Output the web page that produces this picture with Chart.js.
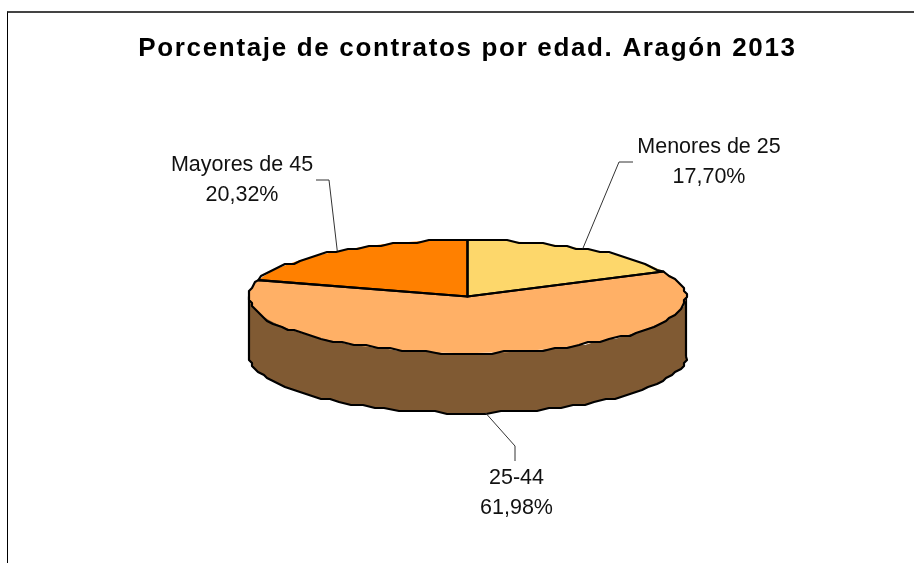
<!DOCTYPE html>
<html>
<head>
<meta charset="utf-8">
<title>Porcentaje de contratos por edad</title>
<script src="https://cdn.jsdelivr.net/npm/chart.js@4"></script>
<style>
  html, body { margin: 0; padding: 0; background: #fff; overflow: hidden; }
  #frame { position: absolute; left: 7px; top: 11px; width: 907px; height: 552px;
           border-top: 2px solid #444; border-left: 1px solid #000; }
  #wrap { position: absolute; left: 0; top: 0; width: 914px; height: 563px; }
</style>
</head>
<body>
<div id="frame"></div>
<div id="wrap"><canvas id="pie" width="914" height="563"></canvas></div>
<script>
// --- Datos ---
const categories = ['Menores de 25', '25-44', 'Mayores de 45'];
const shares = [17.70, 61.98, 20.32];
const chartTitle = 'Porcentaje de contratos por edad. Aragón 2013';

// --- Colores ---
const topColors = ['#FDD76B', '#FFB066', '#FF8000'];
const wallColors = ['#7F6A35', '#805A33', '#804000'];

// --- Aspecto del falso 3D ---
const squash = 56.5 / 218.5;
const depth = 60;
const snap = 3;
const rimStep = 0.06;

const labelFont = '21.5px "Liberation Sans"';
const titleSpacing = '1.66px';

// rotulos: centro del texto, lineas base y codo de la guia
const labelSpots = [
    { x: 709, y1: 153, y2: 183, guide: [[619, 162], [633, 162]] },
    { x: 516.5, y1: 484, y2: 514, guide: [[515, 446], [515, 461]] },
    { x: 242, y1: 171, y2: 201, guide: [[329, 180], [316, 180]] }
];

function rimPoint(arc, angle, drop) {
    const x = arc.x + arc.outerRadius * Math.cos(angle);
    const y = arc.y + arc.outerRadius * squash * Math.sin(angle) + drop;
    return [x, y];
}

// contorno quebrado, como el original
function rimPath(ctx, arc, from, to, drop, first) {
    const steps = Math.max(2, Math.ceil(Math.abs(to - from) / rimStep));
    for (let i = 0; i <= steps; i++) {
        let [x, y] = rimPoint(arc, from + (to - from) * i / steps, drop);
        if (i > 0 && i < steps) {
            x = Math.round(x / snap) * snap;
            y = Math.round(y / snap) * snap;
        }
        if (i === 0 && first) ctx.moveTo(x, y);
        else ctx.lineTo(x, y);
    }
}

const pie3d = {
    id: 'pie3d',
    beforeDatasetsDraw(chart) {
        const ctx = chart.ctx;
        const arcs = chart.getDatasetMeta(0).data;
        // pared lateral: solo la mitad delantera
        arcs.forEach((arc, i) => {
            const from = Math.max(arc.startAngle, 0);
            const to = Math.min(arc.endAngle, Math.PI);
            if (to <= from) return;
            ctx.beginPath();
            rimPath(ctx, arc, from, to, 0, true);
            rimPath(ctx, arc, to, from, depth, false);
            ctx.closePath();
            ctx.fillStyle = wallColors[i];
            ctx.fill();
        });
        const a = arcs[0];
        ctx.beginPath();
        rimPath(ctx, a, 0, Math.PI, depth, true);
        ctx.moveTo(a.x + a.outerRadius, a.y);
        ctx.lineTo(a.x + a.outerRadius, a.y + depth);
        ctx.moveTo(a.x - a.outerRadius, a.y);
        ctx.lineTo(a.x - a.outerRadius, a.y + depth);
        ctx.lineWidth = 2.2;
        ctx.lineJoin = 'round';
        ctx.strokeStyle = '#000';
        ctx.stroke();
        // aplastar el pie de Chart.js en elipse
        ctx.save();
        ctx.translate(a.x, a.y);
        ctx.scale(1, squash);
        ctx.translate(-a.x, -a.y);
    },
    afterDatasetsDraw(chart) {
        const ctx = chart.ctx;
        ctx.restore();
        const arcs = chart.getDatasetMeta(0).data;
        ctx.lineWidth = 2.2;
        ctx.lineJoin = 'round';
        ctx.strokeStyle = '#000';
        arcs.forEach(arc => {
            ctx.beginPath();
            ctx.moveTo(arc.x, arc.y);
            rimPath(ctx, arc, arc.startAngle, arc.endAngle, 0, false);
            ctx.closePath();
            ctx.stroke();
        });
        // guias y rotulos
        ctx.font = labelFont;
        ctx.textAlign = 'center';
        ctx.textBaseline = 'alphabetic';
        arcs.forEach((arc, i) => {
            const spot = labelSpots[i];
            const mid = (arc.startAngle + arc.endAngle) / 2;
            const front = Math.sin(mid) > 0 ? depth : 0;
            const start = rimPoint(arc, mid, front);
            ctx.beginPath();
            ctx.moveTo(start[0], start[1]);
            spot.guide.forEach(p => ctx.lineTo(p[0], p[1]));
            ctx.lineWidth = 1;
            ctx.strokeStyle = '#333';
            ctx.stroke();
            ctx.fillStyle = '#111';
            ctx.fillText(categories[i], spot.x, spot.y1);
            ctx.fillText(shares[i].toFixed(2).replace('.', ',') + '%', spot.x, spot.y2);
        });
    }
};

new Chart(document.getElementById('pie'), {
    type: 'pie',
    data: {
        labels: categories,
        datasets: [{ data: shares, backgroundColor: topColors, borderWidth: 0 }]
    },
    options: {
        responsive: false,
        animation: false,
        layout: { padding: { left: 21, right: 0, top: 0, bottom: 48 } },
        plugins: {
            legend: { display: false },
            tooltip: { enabled: false },
            title: {
                display: true,
                text: chartTitle,
                color: '#000',
                font: { family: '"Liberation Sans"', size: 26, weight: 'bold', lineHeight: 1.2 },
                padding: { top: 33, bottom: 13.8 }
            }
        }
    },
    plugins: [{
        id: 'titleSpacing',
        beforeDraw(chart) { chart.ctx.letterSpacing = titleSpacing; },
        beforeDatasetsDraw(chart) { chart.ctx.letterSpacing = '0px'; }
    }, pie3d]
});
</script>
</body>
</html>
